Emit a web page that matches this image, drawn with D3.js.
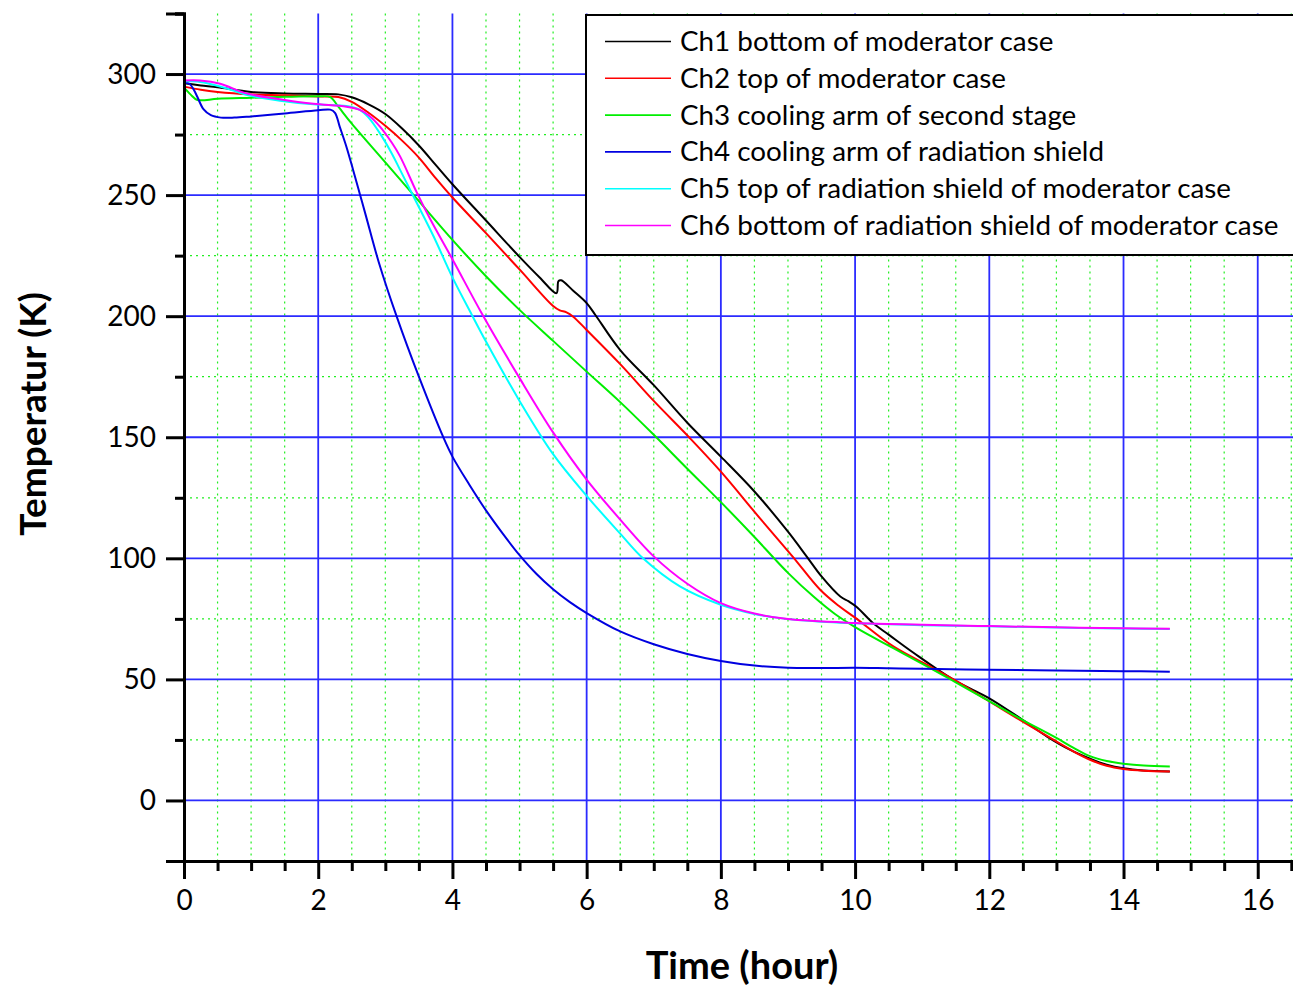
<!DOCTYPE html>
<html>
<head>
<meta charset="utf-8">
<script src="https://cdn.jsdelivr.net/npm/d3@7"></script>
<style>
  body { margin: 0; background: #ffffff; }
  svg text { font-family: Lato, "Noto Sans", sans-serif; fill: #000; }
</style>
</head>
<body>
<div id="chart"></div>
<script>
/* values, [hour, kelvin] */
var ch1 = [[0,296.2],[0.25,295.3],[0.5,294.5],[1,292.6],[1.5,292],[2,291.8],[2.3,291.6],[2.5,290.4],[2.75,287.5],
  [3,283.5],[3.25,277.5],[3.5,270.5],[3.75,262.5],[4,254.5],[4.5,239.5],[5,224.5],[5.3,216],[5.55,209.5],
  [5.58,214.5],[5.62,214.8],[5.8,210.5],[6,205.4],[6.13,200.5],[6.5,186],[7,171.5],[7.5,156],[8,142],[8.5,127.6],
  [9,111],[9.28,100.7],[9.5,92.5],[9.78,84.2],[9.9,82.3],[10.02,80],[10.27,73.2],[10.5,68.5],[10.87,61],[11.47,49.8],
  [12,42.2],[12.5,33.2],[12.86,26.4],[13.2,21],[13.5,17.3],[13.75,14.8],[14,13.3],[14.3,12.4],[14.69,12]]

var ch2 = [[0,294.8],[0.25,293.5],[0.5,292.6],[1,291.6],[1.5,291.2],[2,290.7],[2.3,290.5],[2.5,288.5],[2.75,284],
  [3,278.6],[3.25,272.5],[3.5,265.5],[3.75,257],[4,249],[4.5,234.3],[5,219.3],[5.5,204.2],[5.6,202.4],[5.7,201.6],
  [5.8,199.8],[6,194.3],[6.5,180.2],[7,165],[7.54,149.6],[8,135.8],[8.58,116.6],[9.07,100.7],[9.48,87],[9.75,80.5],
  [10,75.5],[10.57,63.6],[11.12,55.3],[11.5,49.5],[11.96,41.6],[12.5,32.5],[12.96,25],[13.25,20.3],[13.5,16.8],
  [13.75,14.3],[14,13],[14.3,12.3],[14.69,12]]

var ch3 = [[0,294.5],[0.1,291.5],[0.2,289.3],[0.5,289.8],[1,290.2],[1.5,290.6],[2,290.8],[2.18,290.5],[2.3,286.5],
  [2.5,279.5],[3,263.5],[3.5,247.5],[4,231.5],[4.5,216.5],[5,202.6],[5.5,189.8],[6,177.1],[6.5,164.5],[7,151],
  [7.5,137],[8,123.2],[8.5,108.8],[8.79,100.1],[9,94],[9.38,84.2],[9.7,77],[10,71.6],[10.57,62.9],[11.12,54.7],
  [11.5,48.8],[12,41],[12.5,33.2],[13,25.8],[13.25,21.8],[13.5,18.3],[13.75,16.3],[14,15.2],[14.3,14.4],[14.69,14]]

var ch4 = [[0,296.4],[0.08,296],[0.15,293.3],[0.2,290.5],[0.29,285.5],[0.4,283],[0.55,282],[0.75,282],[1,282.5],
  [1.5,283.7],[2,285],[2.18,285.3],[2.25,284],[2.32,278.3],[2.42,270],[2.52,260.4],[2.62,250.5],[2.72,240.5],
  [2.9,222.5],[3.17,199.8],[3.5,175],[3.87,149.6],[4,142],[4.25,130.5],[4.5,119.8],[4.75,110.2],[5,101.3],
  [5.25,93.6],[5.5,87.2],[5.75,81.9],[6,77.4],[6.5,69.8],[7,64.5],[7.5,60.5],[8,57.6],[8.5,55.7],[9,54.8],
  [9.5,54.7],[10,54.8],[10.5,54.6],[11,54.4],[12,54],[13,53.7],[14,53.4],[14.69,53.2]]

var ch5 = [[0,296.9],[0.2,296.9],[0.45,295.5],[0.7,293.5],[0.93,291.4],[1.43,289],[1.93,287.5],[2.42,286.8],
  [2.62,285.2],[2.75,282],[2.92,275.5],[3.1,267],[3.22,260.4],[3.42,249.4],[3.72,232.9],[4,216],[4.29,200.5],
  [4.5,189.5],[5,165],[5.5,143],[6,125.8],[6.5,110.2],[6.84,100],[7.39,88.4],[8,80.8],[8.5,77],[8.88,75.3],
  [9.5,73.8],[10,73.2],[11,72.4],[12,71.9],[13,71.4],[14,71],[14.69,70.8]]

var ch6 = [[0,297.3],[0.24,297.3],[0.54,296],[0.93,292],[1.43,289.6],[1.93,287.7],[2.42,286.5],[2.62,285.2],
  [2.75,283],[2.92,278.3],[3.1,271.5],[3.22,266],[3.47,251],[3.67,240],[4.01,223],[4.44,201],[5.01,174],
  [5.5,152],[6,132.5],[6.5,116],[7,100.8],[7.5,89.5],[8,81.5],[8.5,77.2],[9,74.9],[10,73.3],[11,72.6],
  [12,72],[13,71.5],[14,71.1],[14.69,70.9]]

var channelData = [ch1, ch2, ch3, ch4, ch5, ch6]
var channelNames = [
  "Ch1 bottom of moderator case",
  "Ch2 top of moderator case",
  "Ch3 cooling arm of second stage",
  "Ch4 cooling arm of radiation shield",
  "Ch5 top of radiation shield of moderator case",
  "Ch6 bottom of radiation shield of moderator case"
]
var channelColors = ["#000000", "#ff0000", "#00ee00", "#0000e0", "#00ffff", "#ff00ff"]

var xTicks = [0, 2, 4, 6, 8, 10, 12, 14, 16]
var yTicks = [0, 50, 100, 150, 200, 250, 300]
var xMinorTicks = [0.5, 1, 1.5, 2.5, 3, 3.5, 4.5, 5, 5.5, 6.5, 7, 7.5, 8.5, 9, 9.5, 10.5, 11, 11.5,
  12.5, 13, 13.5, 14.5, 15, 15.5, 16.5]
var yMinorTicks = [-25, 25, 75, 125, 175, 225, 275, 325]

/* layout */
var width = 1293,
    height = 986

var x = d3.scaleLinear().domain([0, 16.6]).range([184, 1298])
var y = d3.scaleLinear().domain([-25, 325]).range([861, 13.5])

var svg = d3.select("#chart")
  .append("svg")
  .attr("width", width)
  .attr("height", height)

/* minor grid, green dots */
svg.append("g")
  .selectAll("line")
  .data(xMinorTicks)
  .enter()
  .append("line")
  .attr("x1", function(d) { return x(d) })
  .attr("x2", function(d) { return x(d) })
  .attr("y1", y(325))
  .attr("y2", y(-25))
  .style("stroke", "#22ee22")
  .style("stroke-width", 1.2)
  .style("stroke-dasharray", "2,4")

svg.append("g")
  .selectAll("line")
  .data(yMinorTicks.filter(function(d) { return d > -25 && d < 325 }))
  .enter()
  .append("line")
  .attr("x1", x(0))
  .attr("x2", width)
  .attr("y1", function(d) { return y(d) })
  .attr("y2", function(d) { return y(d) })
  .style("stroke", "#22ee22")
  .style("stroke-width", 1.2)
  .style("stroke-dasharray", "2,4")

/* major grid, blue */
svg.append("g")
  .selectAll("line")
  .data(xTicks.slice(1))
  .enter()
  .append("line")
  .attr("x1", function(d) { return x(d) })
  .attr("x2", function(d) { return x(d) })
  .attr("y1", y(325))
  .attr("y2", y(-25))
  .style("stroke", "#2b2bff")
  .style("stroke-width", 1.8)

svg.append("g")
  .selectAll("line")
  .data(yTicks)
  .enter()
  .append("line")
  .attr("x1", x(0))
  .attr("x2", width)
  .attr("y1", function(d) { return y(d) })
  .attr("y2", function(d) { return y(d) })
  .style("stroke", "#2b2bff")
  .style("stroke-width", 1.8)

/* the six curves */
var line = d3.line()
  .x(function(d) { return x(d[0]) })
  .y(function(d) { return y(d[1]) })
  .curve(d3.curveCatmullRom.alpha(0.5))

svg.append("g")
  .selectAll("path")
  .data(channelData)
  .enter()
  .append("path")
  .attr("d", line)
  .attr("fill", "none")
  .attr("stroke", function(d, i) { return channelColors[i] })
  .attr("stroke-width", 2)
  .attr("stroke-linejoin", "round")

/* legend box */
var legend = svg.append("g")

legend.append("rect")
  .attr("x", 586)
  .attr("y", 15)
  .attr("width", 720)
  .attr("height", 240)
  .attr("fill", "#ffffff")
  .style("stroke", "#000")
  .style("stroke-width", 2)

var rows = legend.selectAll(".row")
  .data(channelNames)
  .enter()
  .append("g")
  .attr("class", "row")
  .attr("transform", function(d, i) { return "translate(0," + (41.5 + i * 36.8) + ")" })

rows.append("line")
  .attr("x1", 605)
  .attr("x2", 671)
  .attr("stroke", function(d, i) { return channelColors[i] })
  .attr("stroke-width", 1.6)

rows.append("text")
  .attr("x", 680)
  .attr("y", 9.5)
  .style("font-size", "27.8px")
  .text(function(d) { return d })

/* axes */
svg.append("g")
  .attr("transform", "translate(" + x(0) + ",0)")
  .call(d3.axisLeft(y).tickValues(yTicks).tickSize(18).tickPadding(10))

svg.append("g")
  .attr("transform", "translate(" + x(0) + ",0)")
  .call(d3.axisLeft(y).tickValues(yMinorTicks).tickSize(9).tickFormat(""))

svg.append("g")
  .attr("transform", "translate(0," + y(-25) + ")")
  .call(d3.axisBottom(x).tickValues(xTicks).tickSize(18).tickPadding(11))

svg.append("g")
  .attr("transform", "translate(0," + y(-25) + ")")
  .call(d3.axisBottom(x).tickValues(xMinorTicks).tickSize(10).tickFormat(""))

svg.selectAll(".domain")
  .style("stroke", "#000")
  .style("stroke-width", 3)
svg.selectAll(".tick line")
  .style("stroke", "#000")
  .style("stroke-width", 3)
svg.selectAll(".tick text")
  .style("font-size", "28px")
  .style("font-family", "Lato, 'Noto Sans', sans-serif")
  .style("fill", "#000")

/* axis titles */
svg.append("text")
  .attr("x", 742)
  .attr("y", 979)
  .attr("text-anchor", "middle")
  .style("font-size", "38px")
  .style("font-weight", "bold")
  .text("Time (hour)")

svg.append("text")
  .attr("transform", "translate(46," + 414 + ") rotate(-90)")
  .attr("text-anchor", "middle")
  .style("font-size", "37px")
  .style("font-weight", "bold")
  .text("Temperatur (K)")
</script>
</body>
</html>
